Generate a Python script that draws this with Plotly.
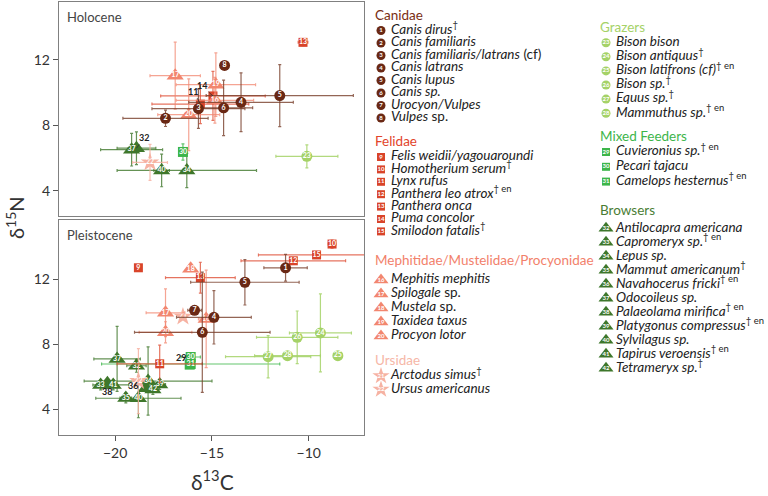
import plotly.graph_objects as go

W, H = 768, 496
FONT = "Lato, Noto Sans, sans-serif"

# ---- Holocene: specimen group id, mean d13C, mean d15N, sd ----
holo_id = [2, 3, 4, 5, 6, 8, 11, 13, 14, 16, 17, 19, 20, 22, 23, 30, 32, 34, 37, 40]
holo_x = [-17.4, -15.7, -13.5, -11.5, -14.4, -14.35, -15.6, -10.3, -14.95, -14.85,
          -16.9, -14.8, -16.2, -18.2, -10.1, -16.5, -18.9, -16.3, -19.15, -17.6]
holo_y = [8.43, 9.02, 9.41, 9.82, 9.07, 11.67, 9.3, 13.08, 9.8, 9.53,
          11.04, 10.49, 8.65, 5.73, 6.1, 6.37, 6.6, 5.24, 6.51, 5.24]
holo_xerr = [2.2, 2.4, 2.7, 3.8, 1.5, 0, 2.5, 0.25, 2.7, 2.0,
             1.3, 2.05, 1.6, 0.9, 1.6, 0.2, 1.0, 3.6, 1.6, 0.4]
holo_yerr = [0.5, 1.2, 1.8, 1.9, 1.7, 0, 1.2, 0.2, 1.5, 1.4,
             2.05, 1.95, 2.2, 1.1, 0.7, 0.5, 1.0, 1.05, 1.0, 1.0]

# ---- Pleistocene ----
pleis_id = [1, 4, 5, 6, 7, 9, 10, 11, 12, 13, 15, 16, 17, 18, 20, 21, 22, 24, 25, 26,
            27, 28, 29, 30, 31, 32, 33, 34, 35, 36, 37, 38, 39, 40, 41, 42]
pleis_x = [-11.2, -14.9, -13.3, -15.5, -15.9, -18.8, -8.8, -17.7, -10.8, -15.6,
           -9.6, -15.3, -17.4, -16.1, -17.4, -16.5, -18.8, -9.4, -8.5, -10.6,
           -12.1, -11.1, -16.15, -16.1, -16.1, -18.9, -20.75, -18.3, -19.45, -18.4,
           -19.9, -20.4, -17.7, -18.8, -20.1, -18.05]
pleis_y = [12.71, 9.66, 11.82, 8.74, 10.09, 12.71, 14.17, 6.8, 13.14, 12.1,
           13.5, 9.56, 9.94, 12.65, 8.74, 9.7, 5.74, 8.7, 7.3, 8.43,
           7.24, 7.3, 6.75, 7.22, 6.79, 6.68, 5.5, 5.74, 4.7, 5.3,
           7.1, 5.6, 5.52, 4.68, 5.5, 5.22]
pleis_xerr = [1.12, 1.93, 2.8, 3.5, 0.35, 0, 0.2, 2.2, 2.7, 1.8,
              3.0, 0.4, 1.0, 0, 1.36, 0, 0.3, 1.6, 0, 2.1,
              2.2, 1.7, 0, 0.5, 4.6, 0.5, 0.4, 3.3, 0.3, 0,
              1.2, 0, 0.3, 2.2, 0.8, 0.3]
pleis_yerr = [0.82, 1.64, 1.4, 3.7, 0.2, 0, 0.25, 1.15, 0.15, 0.95,
              0.1, 3.0, 1.47, 0, 0.65, 0, 2.0, 2.4, 0, 1.62,
              1.3, 0.2, 0, 0.15, 0.1, 0.4, 0.3, 2.1, 0.3, 0,
              2.0, 0, 0.3, 1.2, 0.3, 0.3]

# ids whose number is written beside the marker (dx, dy in px)
holo_side = {11: (-7, -13), 14: (-11, -10), 32: (8, -11)}
pleis_side = {29: (-9, -7), 36: (-13, -3), 38: (0, 8)}

# ---- legend / taxon names ----
group_names = ["Canidae", "Felidae", "Mephitidae/Mustelidae/Procyonidae", "Ursidae",
               "Grazers", "Mixed Feeders", "Browsers"]
group_first = [1, 9, 16, 21, 23, 29, 32]
group_last = [8, 15, 20, 22, 28, 31, 42]

taxa = [
    "<i>Canis dirus</i><sup>†</sup>", "<i>Canis familiaris</i>",
    "<i>Canis familiaris/latrans</i> (cf)", "<i>Canis latrans</i>", "<i>Canis lupus</i>",
    "<i>Canis sp.</i>", "<i>Urocyon/Vulpes</i>", "<i>Vulpes</i> sp.",
    "<i>Felis weidii/yagouaroundi</i>", "<i>Homotherium serum</i><sup>†</sup>",
    "<i>Lynx rufus</i>", "<i>Panthera leo atrox</i><sup>† en</sup>", "<i>Panthera onca</i>",
    "<i>Puma concolor</i>", "<i>Smilodon fatalis</i><sup>†</sup>",
    "<i>Mephitis mephitis</i>", "<i>Spilogale</i> sp.", "<i>Mustela</i> sp.",
    "<i>Taxidea taxus</i>", "<i>Procyon lotor</i>",
    "<i>Arctodus simus</i><sup>†</sup>", "<i>Ursus americanus</i>",
    "<i>Bison bison</i>", "<i>Bison antiquus</i><sup>†</sup>",
    "<i>Bison latifrons (cf)</i><sup>† en</sup>", "<i>Bison sp.</i><sup>†</sup>",
    "<i>Equus sp.</i><sup>†</sup>", "<i>Mammuthus sp.</i><sup>† en</sup>",
    "<i>Cuvieronius sp.</i><sup>† en</sup>", "<i>Pecari tajacu</i>",
    "<i>Camelops hesternus</i><sup>† en</sup>",
    "<i>Antilocapra americana</i>", "<i>Capromeryx sp.</i><sup>† en</sup>",
    "<i>Lepus sp.</i>", "<i>Mammut americanum</i><sup>†</sup>",
    "<i>Navahocerus fricki</i><sup>† en</sup>", "<i>Odocoileus sp.</i>",
    "<i>Palaeolama mirifica</i><sup>† en</sup>", "<i>Platygonus compressus</i><sup>† en</sup>",
    "<i>Sylvilagus sp.</i>", "<i>Tapirus veroensis</i><sup>† en</sup>",
    "<i>Tetrameryx sp.</i><sup>†</sup>",
]

STYLE = {
    "Canidae": dict(symbol="circle", color="#6a2814", err="rgba(120,62,42,0.8)",
                    size=11, lsize=9, head="#7a2e12"),
    "Felidae": dict(symbol="square", color="#d9442a", err="rgba(222,80,55,0.8)",
                    size=9, lsize=8, head="#e2442a"),
    "Mephitidae/Mustelidae/Procyonidae": dict(symbol="triangle-up", color="#f2866f",
                    err="rgba(242,134,111,0.75)", size=15, lsize=13, head="#f2816b"),
    "Ursidae": dict(symbol="star", color="#f6b2a2", err="rgba(246,178,162,0.85)",
                    size=14, lsize=13, head="#f6b7a7"),
    "Grazers": dict(symbol="circle", color="#a5d267", err="rgba(165,210,103,0.85)",
                    size=11, lsize=9, head="#a5d267"),
    "Mixed Feeders": dict(symbol="square", color="#3db54a", err="rgba(61,181,74,0.8)",
                    size=10, lsize=8, head="#3db54a"),
    "Browsers": dict(symbol="triangle-up", color="#3e772b", err="rgba(62,119,43,0.8)",
                    size=15, lsize=13, head="#4a7d34"),
}
# header x, header y, first item y, row step (px)
LEG = {
    "Canidae": (375, 17, 30.5, 12.5),
    "Felidae": (375, 143, 157, 12.4),
    "Mephitidae/Mustelidae/Procyonidae": (375, 262, 280, 14),
    "Ursidae": (375, 362, 376, 13.5),
    "Grazers": (600, 28.5, 42.7, 14.1),
    "Mixed Feeders": (600, 137.5, 152, 14.8),
    "Browsers": (600, 211.7, 228.3, 14),
}
LEG_X0 = 366  # left edge of legend overlay, px
draw_order = ["Browsers", "Mixed Feeders", "Grazers", "Ursidae", "Felidae",
              "Mephitidae/Mustelidae/Procyonidae", "Canidae"]

fig = go.Figure()


def add_panel(ids, xs, ys, xe, ye, xa, ya, side, leader):
    for g in draw_order:
        k = group_names.index(g)
        st = STYLE[g]
        idx = [i for i, v in enumerate(ids) if group_first[k] <= v <= group_last[k]]
        # hidden / side-labelled ones go underneath
        idx.sort(key=lambda i: 0 if ids[i] in side else 1)
        if not idx:
            continue
        fig.add_trace(go.Scatter(
            x=[xs[i] for i in idx], y=[ys[i] for i in idx],
            mode="markers+text",
            text=["" if ids[i] in side else str(ids[i]) for i in idx],
            textposition="middle center",
            textfont=dict(size=7, color="white", family=FONT, weight="bold"),
            marker=dict(symbol=st["symbol"], size=st["size"], color=st["color"],
                        line=dict(width=0)),
            error_x=dict(type="data", array=[xe[i] for i in idx], color=st["err"],
                         thickness=1.2, width=1.5),
            error_y=dict(type="data", array=[ye[i] for i in idx], color=st["err"],
                         thickness=1.2, width=1.5),
            xaxis=xa, yaxis=ya, showlegend=False, hoverinfo="skip",
        ))
    for v, (dx, dy) in side.items():
        i = ids.index(v)
        lab = dict(x=xs[i], y=ys[i], xref=xa, yref=ya, text=str(v),
                   font=dict(size=9, color="#222", family=FONT, weight="bold"))
        if leader:
            fig.add_annotation(**lab, showarrow=True, arrowhead=0, arrowwidth=0.8,
                               arrowcolor="#333", ax=dx, ay=dy, standoff=0)
        else:
            fig.add_annotation(**lab, showarrow=False, xshift=dx, yshift=-dy)


add_panel(holo_id, holo_x, holo_y, holo_xerr, holo_yerr, "x", "y", holo_side, True)
add_panel(pleis_id, pleis_x, pleis_y, pleis_xerr, pleis_yerr, "x2", "y2", pleis_side, False)

# ---- legend drawn on a pixel-space overlay axis ----
for k, g in enumerate(group_names):
    st = STYLE[g]
    hx, hy, y0, step = LEG[g]
    nums = list(range(group_first[k], group_last[k] + 1))
    rows = [y0 + step * j for j in range(len(nums))]
    fig.add_trace(go.Scatter(
        x=[hx], y=[hy], mode="text", text=[g], textposition="middle right",
        textfont=dict(size=13.5, color=st["head"], family=FONT),
        xaxis="x3", yaxis="y3", showlegend=False, hoverinfo="skip",
    ))
    fig.add_trace(go.Scatter(
        x=[hx + 6] * len(nums), y=rows, mode="markers+text",
        text=[str(n) for n in nums], textposition="middle center",
        textfont=dict(size=6, color="white", family=FONT, weight="bold"),
        marker=dict(symbol=st["symbol"], size=st["lsize"], color=st["color"]),
        xaxis="x3", yaxis="y3", showlegend=False, hoverinfo="skip",
    ))
    fig.add_trace(go.Scatter(
        x=[hx + 16] * len(nums), y=rows, mode="text",
        text=[taxa[n - 1] for n in nums], textposition="middle right",
        textfont=dict(size=13.5, color="#222", family=FONT),
        xaxis="x3", yaxis="y3", showlegend=False, hoverinfo="skip",
    ))

frame = dict(showline=True, mirror=True, linecolor="#808080", linewidth=1.4,
             showgrid=False, zeroline=False, automargin=False)
xdom = [59 / W, 364 / W]
xrange_ = [-22.9, -7.15]

fig.update_layout(
    width=W, height=H, margin=dict(l=0, r=0, t=0, b=0),
    paper_bgcolor="white", plot_bgcolor="rgba(0,0,0,0)",
    font=dict(family=FONT, color="#333"),
    xaxis=dict(domain=xdom, range=xrange_, anchor="y", showticklabels=False,
               ticks="", **frame),
    yaxis=dict(domain=[1 - 216 / H, 1 - 2 / H], range=[2.45, 15.55], anchor="x",
               tickvals=[4, 8, 12], ticks="outside", ticklen=5, tickcolor="#555",
               tickfont=dict(size=14, color="#333"), **frame),
    xaxis2=dict(domain=xdom, range=xrange_, anchor="y2", tickvals=[-20, -15, -10],
                ticks="outside", ticklen=5, tickcolor="#555",
                tickfont=dict(size=14, color="#333"), **frame),
    yaxis2=dict(domain=[1 - 435 / H, 1 - 220 / H], range=[2.42, 15.65], anchor="x2",
                tickvals=[4, 8, 12], ticks="outside", ticklen=5, tickcolor="#555",
                tickfont=dict(size=14, color="#333"), **frame),
    xaxis3=dict(domain=[LEG_X0 / W, 1], range=[LEG_X0, W], visible=False, anchor="y3",
                fixedrange=True),
    yaxis3=dict(domain=[0, 1], range=[H, 0], visible=False, anchor="x3", fixedrange=True),
)

fig.add_annotation(x=0.02, y=0.975, xref="x domain", yref="y domain", text="Holocene",
                   showarrow=False, xanchor="left", yanchor="top",
                   font=dict(size=13, color="#444"))
fig.add_annotation(x=0.02, y=0.975, xref="x2 domain", yref="y2 domain", text="Pleistocene",
                   showarrow=False, xanchor="left", yanchor="top",
                   font=dict(size=13, color="#444"))
fig.add_annotation(x=15 / W, y=1 - 218 / H, xref="paper", yref="paper",
                   text="δ<sup>15</sup>N", textangle=-90, showarrow=False,
                   xanchor="center", yanchor="middle",
                   font=dict(size=20, color="#333"))
fig.add_annotation(x=212 / W, y=1 - 480 / H, xref="paper", yref="paper",
                   text="δ<sup>13</sup>C", showarrow=False,
                   xanchor="center", yanchor="middle",
                   font=dict(size=21, color="#333"))

# the page body has a default 8px margin; drop it so the figure fills the window
fig.write_html("out.html", config={"displayModeBar": False},
               post_script="document.body.style.margin = '0';")
